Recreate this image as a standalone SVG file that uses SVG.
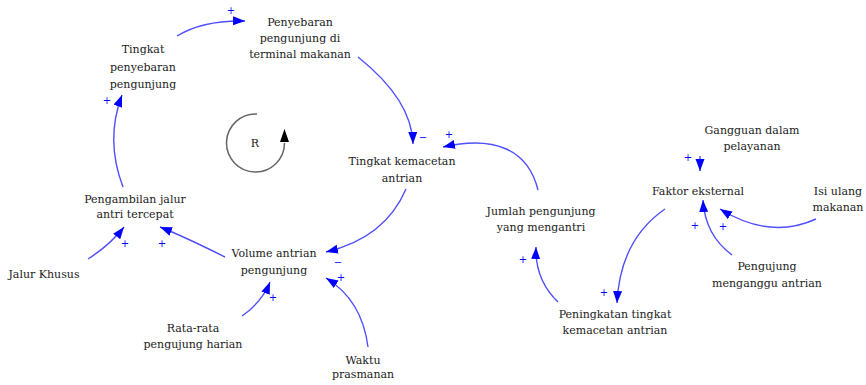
<svg xmlns="http://www.w3.org/2000/svg" width="866" height="385" viewBox="0 0 866 385">
<style>
.t{font-family:"DejaVu Serif","Liberation Serif",serif;font-size:11px;fill:#222;text-anchor:middle}
.s{font-family:"DejaVu Sans","Liberation Sans",sans-serif;font-size:10px;fill:#0000ff;text-anchor:middle}
.c{fill:none;stroke:#4f4fff;stroke-width:1.4;marker-end:url(#ah)}
</style>
<defs>
<marker id="ah" markerUnits="userSpaceOnUse" markerWidth="13" markerHeight="10" refX="12" refY="4.5" orient="auto">
<path d="M0,0 L12,4.5 L0,9 z" fill="#0000ff"/>
</marker>
</defs>
<rect width="866" height="385" fill="#fff"/>
<g id="connectors">
<path class="c" d="M177,36 Q203,20 245,21"/>
<path class="c" d="M358,57 Q412,100 413,144"/>
<path class="c" d="M538,190 C528,150 495,135 443,147"/>
<path class="c" d="M406,189 Q385,238 326,252"/>
<path class="c" d="M225,257 Q185,237 160,227"/>
<path class="c" d="M88,259 Q110,245 124,227"/>
<path class="c" d="M123,187 Q105,140 122,95"/>
<path class="c" d="M242,316 Q262,302 270,282"/>
<path class="c" d="M368,347 Q362,300 326,278"/>
<path class="c" d="M558,302 Q535,280 536,247"/>
<path class="c" d="M665,209 Q620,240 617,303"/>
<path class="c" d="M700,156 L700,171"/>
<path class="c" d="M732,255 Q705,235 703,200"/>
<path class="c" d="M816,219 Q770,240 720,209"/>
</g>
<g id="polarities">
<text class="s" x="231" y="14">+</text>
<text class="s" x="423" y="141">−</text>
<text class="s" x="449" y="138">+</text>
<text class="s" x="338" y="266">−</text>
<text class="s" x="162" y="247">+</text>
<text class="s" x="125" y="247">+</text>
<text class="s" x="107" y="104">+</text>
<text class="s" x="273" y="301">+</text>
<text class="s" x="341" y="281">+</text>
<text class="s" x="523" y="263">+</text>
<text class="s" x="604" y="296">+</text>
<text class="s" x="688" y="161">+</text>
<text class="s" x="695" y="229">+</text>
<text class="s" x="723" y="230">+</text>
</g>
<g id="loop-R">
<path d="M257,114 A29,29 0 1 0 284.5,143" fill="none" stroke="#666" stroke-width="1.5"/>
<path d="M280,142 L289,142 L284.5,129 z" fill="#000"/>
<text class="t" x="255" y="147">R</text>
</g>
<g id="penyebaran-terminal">
<text class="t" x="300" y="26">Penyebaran</text>
<text class="t" x="300" y="42">pengunjung di</text>
<text class="t" x="300" y="58">terminal makanan</text>
</g>
<g id="tingkat-penyebaran">
<text class="t" x="143" y="53">Tingkat</text>
<text class="t" x="143" y="71">penyebaran</text>
<text class="t" x="143" y="88">pengunjung</text>
</g>
<g id="tingkat-kemacetan">
<text class="t" x="402" y="165">Tingkat kemacetan</text>
<text class="t" x="402" y="182">antrian</text>
</g>
<g id="pengambilan-jalur">
<text class="t" x="135" y="203">Pengambilan jalur</text>
<text class="t" x="135" y="218">antri tercepat</text>
</g>
<g id="jalur-khusus">
<text class="t" x="44" y="278">Jalur Khusus</text>
</g>
<g id="volume-antrian">
<text class="t" x="274" y="257">Volume antrian</text>
<text class="t" x="274" y="274">pengunjung</text>
</g>
<g id="rata-rata">
<text class="t" x="193" y="332">Rata-rata</text>
<text class="t" x="193" y="348">pengujung harian</text>
</g>
<g id="waktu-prasmanan">
<text class="t" x="363" y="364">Waktu</text>
<text class="t" x="363" y="378">prasmanan</text>
</g>
<g id="jumlah-pengunjung">
<text class="t" x="541" y="215">Jumlah pengunjung</text>
<text class="t" x="541" y="231">yang mengantri</text>
</g>
<g id="peningkatan">
<text class="t" x="615" y="318">Peningkatan tingkat</text>
<text class="t" x="615" y="334">kemacetan antrian</text>
</g>
<g id="faktor-eksternal">
<text class="t" x="698" y="195">Faktor eksternal</text>
</g>
<g id="gangguan">
<text class="t" x="752" y="134">Gangguan dalam</text>
<text class="t" x="752" y="150">pelayanan</text>
</g>
<g id="isi-ulang">
<text class="t" x="838" y="195">Isi ulang</text>
<text class="t" x="838" y="211">makanan</text>
</g>
<g id="pengujung-menganggu">
<text class="t" x="767" y="270">Pengujung</text>
<text class="t" x="767" y="287">menganggu antrian</text>
</g>
</svg>
